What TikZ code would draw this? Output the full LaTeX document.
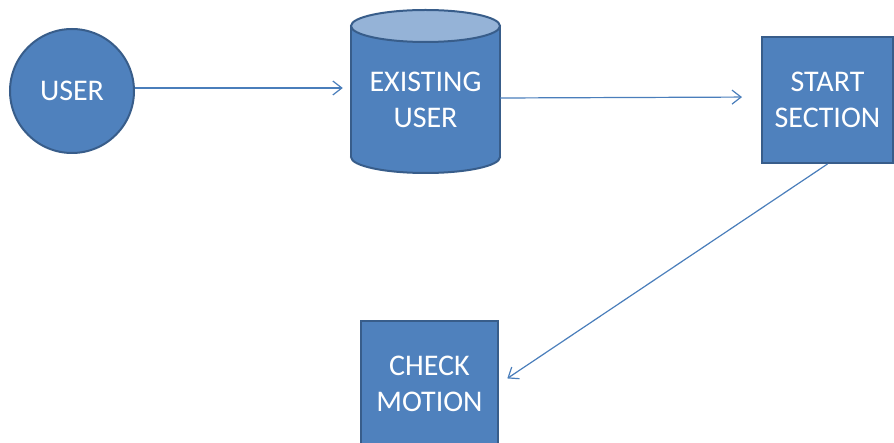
\documentclass[tikz,border=0pt]{standalone}
\usepackage{fontspec}
\setmainfont{Carlito}
\usetikzlibrary{arrows.meta}
\definecolor{shapefill}{HTML}{4F81BD}
\definecolor{shapeline}{HTML}{385D8A}
\definecolor{capfill}{HTML}{95B3D7}
\definecolor{linkcol}{HTML}{4A7EBB}
\tikzset{
  lbl/.style={text=white, font=\fontsize{30pt}{36pt}\selectfont, align=center},
  procbox/.style={lbl, draw=shapeline, fill=shapefill, line width=2pt,
    minimum width=131pt, minimum height=126pt, inner sep=0pt},
  startnode/.style={lbl, circle, draw=shapeline, fill=shapefill, line width=2pt,
    minimum size=124pt, inner sep=0pt},
  link/.style={draw=linkcol, line width=1.2pt,
    -{Straight Barb[length=9pt,width=14pt,line width=1.2pt]}}
}
\begin{document}
\begin{tikzpicture}[x=1pt,y=-1pt]
\useasboundingbox (0,0) rectangle (894,443);
\clip (0,0) rectangle (894,443);

% user start circle
\node[startnode] (user) at (72,91) {USER};

% database cylinder
\fill[shapefill, draw=shapeline, line width=2pt] (425.5,157) ellipse [x radius=74.5pt, y radius=16pt];
\fill[shapefill] (351,26) rectangle (500,157);
\draw[shapeline, line width=2pt] (351,26) -- (351,157) (500,26) -- (500,157);
\filldraw[fill=capfill, draw=shapeline, line width=2pt] (425.5,26) ellipse [x radius=74.5pt, y radius=16pt];
\node[lbl, minimum width=149pt, inner sep=0pt] (exist) at (425.5,100) {EXISTING\\USER};

% process boxes
\node[procbox] (start) at (827.5,100) {START\\SECTION};
\node[procbox, minimum width=137pt] (check) at (429.5,384) {CHECK\\MOTION};

% connectors
\draw[link, shorten >=8pt] ([yshift=3pt]user.east) -- ([yshift=12pt]exist.west);
\draw[link, shorten >=19pt] ([yshift=2pt]exist.east) -- ([yshift=3pt]start.west);
\draw[link, shorten >=10pt] (start.south) -- (check.east);
\end{tikzpicture}
\end{document}
